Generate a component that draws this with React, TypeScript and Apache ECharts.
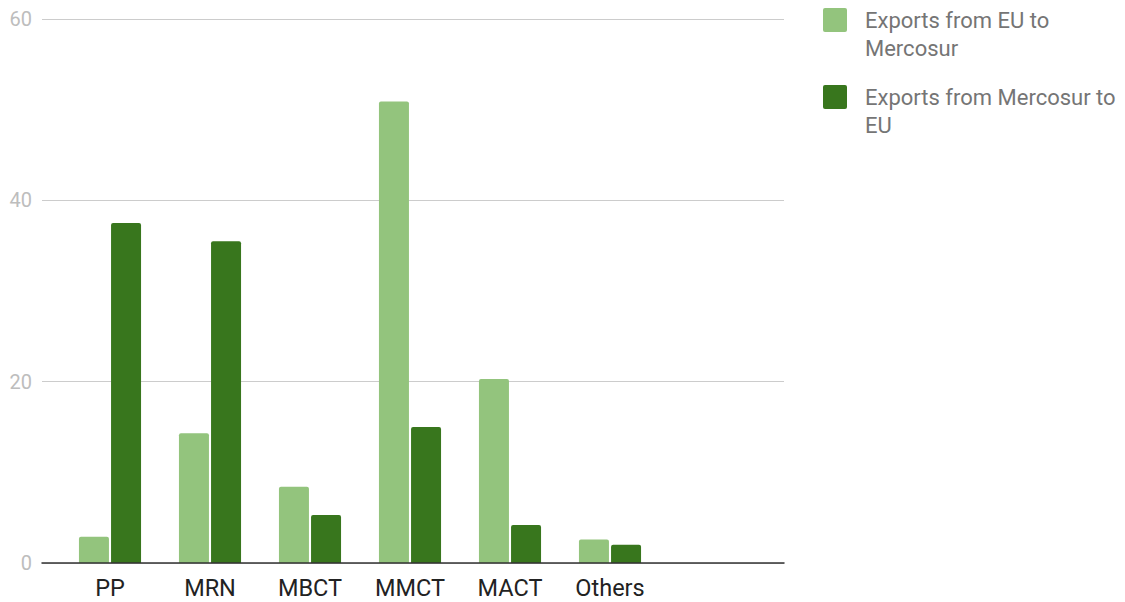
import React, { useEffect, useRef } from "react";
import * as echarts from "echarts";

const categories = ["PP", "MRN", "MBCT", "MMCT", "MACT", "Others"];
const seriesNames = ["Exports from EU to Mercosur", "Exports from Mercosur to EU"];
const legendLines = [
  ["Exports from EU to", "Mercosur"],
  ["Exports from Mercosur to", "EU"],
];
const euToMercosur = [2.9, 14.3, 8.4, 50.9, 20.3, 2.6];
const mercosurToEu = [37.5, 35.5, 5.3, 15.0, 4.2, 2.0];
const yTicks = [0, 20, 40, 60];
const colors = ["#93c47d", "#38761d"];

export default function App() {
  const ref = useRef<HTMLDivElement>(null);
  useEffect(() => {
    if (!ref.current) return;
    const chart = echarts.init(ref.current, undefined, { renderer: "svg" });
    const font = "Roboto, 'Noto Sans', sans-serif";
    const graphic: any[] = [];
    legendLines.forEach((lines, i) => {
      const top = 8 + i * 77;
      graphic.push({
        type: "rect",
        left: 823,
        top,
        shape: { width: 24, height: 24, r: 2 },
        style: { fill: colors[i] },
      });
      graphic.push({
        type: "text",
        left: 865,
        top: top - 2,
        style: {
          text: lines.join("\n"),
          fill: "#757575",
          font: `22px ${font}`,
          lineHeight: 28,
        },
      });
    });
    chart.setOption({
      animation: false,
      textStyle: { fontFamily: font },
      grid: [
        { left: 42, width: 742, top: 19, height: 544, containLabel: false },
        { left: 60, width: 700, top: 19, height: 544, containLabel: false },
      ],
      xAxis: [
        {
          type: "category",
          gridIndex: 0,
          data: [""],
          axisLine: { show: true, lineStyle: { color: "#333", width: 1.5 } },
          axisTick: { show: false },
          axisLabel: { show: false },
          z: 5,
        },
        {
          type: "category",
          gridIndex: 1,
          data: [...categories, ""],
          axisLine: { show: false },
          axisTick: { show: false },
          axisLabel: {
            color: "#222",
            fontSize: 23.5,
            lineHeight: 24,
            margin: 13,
            fontFamily: font,
          },
        },
      ],
      yAxis: [
        {
          type: "value",
          gridIndex: 0,
          min: yTicks[0],
          max: yTicks[yTicks.length - 1],
          interval: 20,
          axisLine: { show: false },
          axisTick: { show: false },
          axisLabel: { color: "#bdbdbd", fontSize: 20, margin: 10, fontFamily: font },
          splitLine: { lineStyle: { color: "#cccccc", width: 1 } },
        },
        {
          type: "value",
          gridIndex: 1,
          min: 0,
          max: 60,
          interval: 20,
          show: false,
        },
      ],
      graphic,
      series: [
        {
          name: seriesNames[0],
          type: "bar",
          xAxisIndex: 1,
          yAxisIndex: 1,
          data: euToMercosur,
          barWidth: 30,
          barGap: "7%",
          itemStyle: { color: colors[0], borderRadius: [2, 2, 0, 0] },
        },
        {
          name: seriesNames[1],
          type: "bar",
          xAxisIndex: 1,
          yAxisIndex: 1,
          data: mercosurToEu,
          barWidth: 30,
          barGap: "7%",
          itemStyle: { color: colors[1], borderRadius: [2, 2, 0, 0] },
        },
      ],
    });
    return () => chart.dispose();
  }, []);
  return (
    <div
      ref={ref}
      style={{ position: "fixed", left: 0, top: 0, width: 1125, height: 602, background: "#fff" }}
    />
  );
}
